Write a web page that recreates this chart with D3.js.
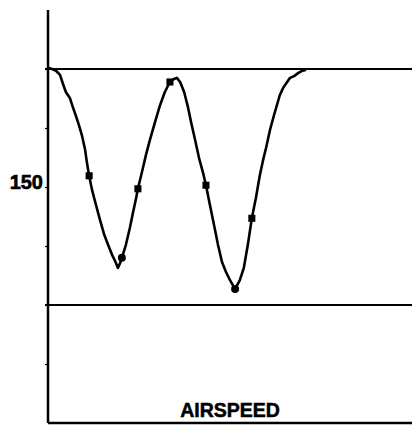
<!DOCTYPE html>
<html>
<head>
<meta charset="utf-8">
<script src="https://cdn.jsdelivr.net/npm/d3@7"></script>
<style>
  html, body { margin: 0; padding: 0; background: #fff; }
  svg { display: block; }
</style>
</head>
<body>
<svg id="chart" width="412" height="425"></svg>
<script>
// Airspeed trace (knots) against elapsed time (arbitrary units)
const timeValues = [
  0, 1.1, 2.2, 3.3, 4.1, 4.9, 6.0, 6.9, 7.7, 8.5, 9.3, 10.2, 10.7, 11.3, 12.1, 13.2, 14.3, 15.4,
  16.5, 17.6, 18.4, 19.2, 19.8, 20.3, 21.4, 22.5, 23.4, 24.2, 24.7, 25.8, 26.9, 28.0, 29.4, 30.8,
  32.1, 33.5, 34.6, 35.4, 36.3, 37.4, 38.5, 39.3, 40.4, 41.5, 42.6, 43.4, 44.5, 45.6, 46.7, 47.8,
  48.9, 50.0, 51.4, 52.7, 53.8, 54.9, 56.0, 57.1, 58.2, 59.1, 59.9, 61.0, 62.1, 62.9, 63.7, 64.6,
  65.7, 66.5, 67.6, 68.7, 69.8, 70.6
];
const airspeedValues = [
  170.2, 170.0, 169.7, 169.0, 167.5, 166.1, 165.1, 163.4, 162.0, 160.5, 158.8, 156.3, 154.1, 151.9,
  149.5, 146.9, 144.4, 142.0, 140.2, 138.5, 137.5, 136.3, 137.1, 138.0, 140.2, 143.1, 145.8, 148.1,
  149.7, 152.5, 155.4, 158.0, 161.0, 163.9, 166.1, 167.8, 168.3, 168.5, 167.8, 166.1, 163.4, 161.0,
  158.0, 154.9, 152.4, 150.3, 146.9, 143.6, 140.2, 137.3, 135.6, 134.2, 132.7, 134.2, 136.3, 140.2,
  144.7, 148.1, 152.0, 154.6, 156.6, 159.7, 162.2, 163.9, 165.6, 166.8, 167.8, 168.5, 168.8, 169.3,
  169.7, 169.8
];

// Marked readings on the trace
const markTimes    = [11.3, 20.3, 24.7, 33.5, 43.4, 51.4, 56.0];
const markAirspeed = [151.9, 138.0, 149.7, 167.8, 150.3, 132.7, 144.7];
const markShapes   = ["square", "circle", "square", "square", "square", "circle", "square"];

// Limit lines
const limitValues = [170, 130];

// Axis ticks
const tickValues = [120, 130, 140, 150, 160, 170];
const tickLabels = { 150: "150" };
const axisTitle = "AIRSPEED";

const width = 412, height = 425;
const margin = { top: 10, right: 0, bottom: 2, left: 48 };

const svg = d3.select("#chart");

const x = d3.scaleLinear().domain([0, 100]).range([margin.left, width - margin.right]);
const y = d3.scaleLinear().domain([110, 180]).range([height - margin.bottom, margin.top]);

const ink = "#000";
const labelFont = "'Liberation Sans', Arial, sans-serif";

// Limit lines
svg.selectAll("line.limit")
  .data(limitValues)
  .join("line")
  .attr("class", "limit")
  .attr("x1", x(0) - 3)
  .attr("x2", x(100))
  .attr("y1", d => y(d))
  .attr("y2", d => y(d))
  .attr("stroke", ink)
  .attr("stroke-width", 2);

// Left axis
const yAxis = d3.axisLeft(y)
  .tickValues(tickValues)
  .tickSize(3)
  .tickPadding(2)
  .tickFormat(d => tickLabels[d] || "");

const gy = svg.append("g")
  .attr("transform", `translate(${x(0)},0)`)
  .call(yAxis);
gy.select(".domain").remove();
gy.selectAll(".tick line").attr("stroke", ink).attr("stroke-width", 1.2);
gy.selectAll(".tick text")
  .attr("fill", ink)
  .attr("stroke", ink)
  .attr("stroke-width", 0.6)
  .style("font-family", labelFont)
  .style("font-weight", "bold")
  .style("font-size", "20px")
  .attr("dy", "0.05em");

// Axis lines
svg.append("line")
  .attr("x1", x(0)).attr("x2", x(0))
  .attr("y1", y(180)).attr("y2", y(110))
  .attr("stroke", ink).attr("stroke-width", 2.5);
svg.append("line")
  .attr("x1", x(0)).attr("x2", x(100))
  .attr("y1", y(110)).attr("y2", y(110))
  .attr("stroke", ink).attr("stroke-width", 2.5);

// Trace
const traceData = timeValues.map((t, i) => ({ t, v: airspeedValues[i] }));
const line = d3.line().x(d => x(d.t)).y(d => y(d.v)).curve(d3.curveLinear);
svg.append("path")
  .datum(traceData)
  .attr("d", line)
  .attr("fill", "none")
  .attr("stroke", ink)
  .attr("stroke-width", 2.6)
  .attr("stroke-linejoin", "round")
  .attr("stroke-linecap", "round");

// Markers
const markData = markTimes.map((t, i) => ({ t, v: markAirspeed[i], shape: markShapes[i] }));
svg.selectAll("path.mark")
  .data(markData)
  .join("path")
  .attr("class", "mark")
  .attr("transform", d => `translate(${x(d.t)},${y(d.v)})`)
  .attr("d", d => d3.symbol(d.shape === "circle" ? d3.symbolCircle : d3.symbolSquare, 50)())
  .attr("fill", ink);

// Axis title
svg.append("text")
  .attr("x", 230)
  .attr("y", 417)
  .attr("text-anchor", "middle")
  .attr("fill", ink)
  .attr("stroke", ink)
  .attr("stroke-width", 0.5)
  .style("font-family", labelFont)
  .style("font-weight", "bold")
  .style("font-size", "19.5px")
  .text(axisTitle);
</script>
</body>
</html>
